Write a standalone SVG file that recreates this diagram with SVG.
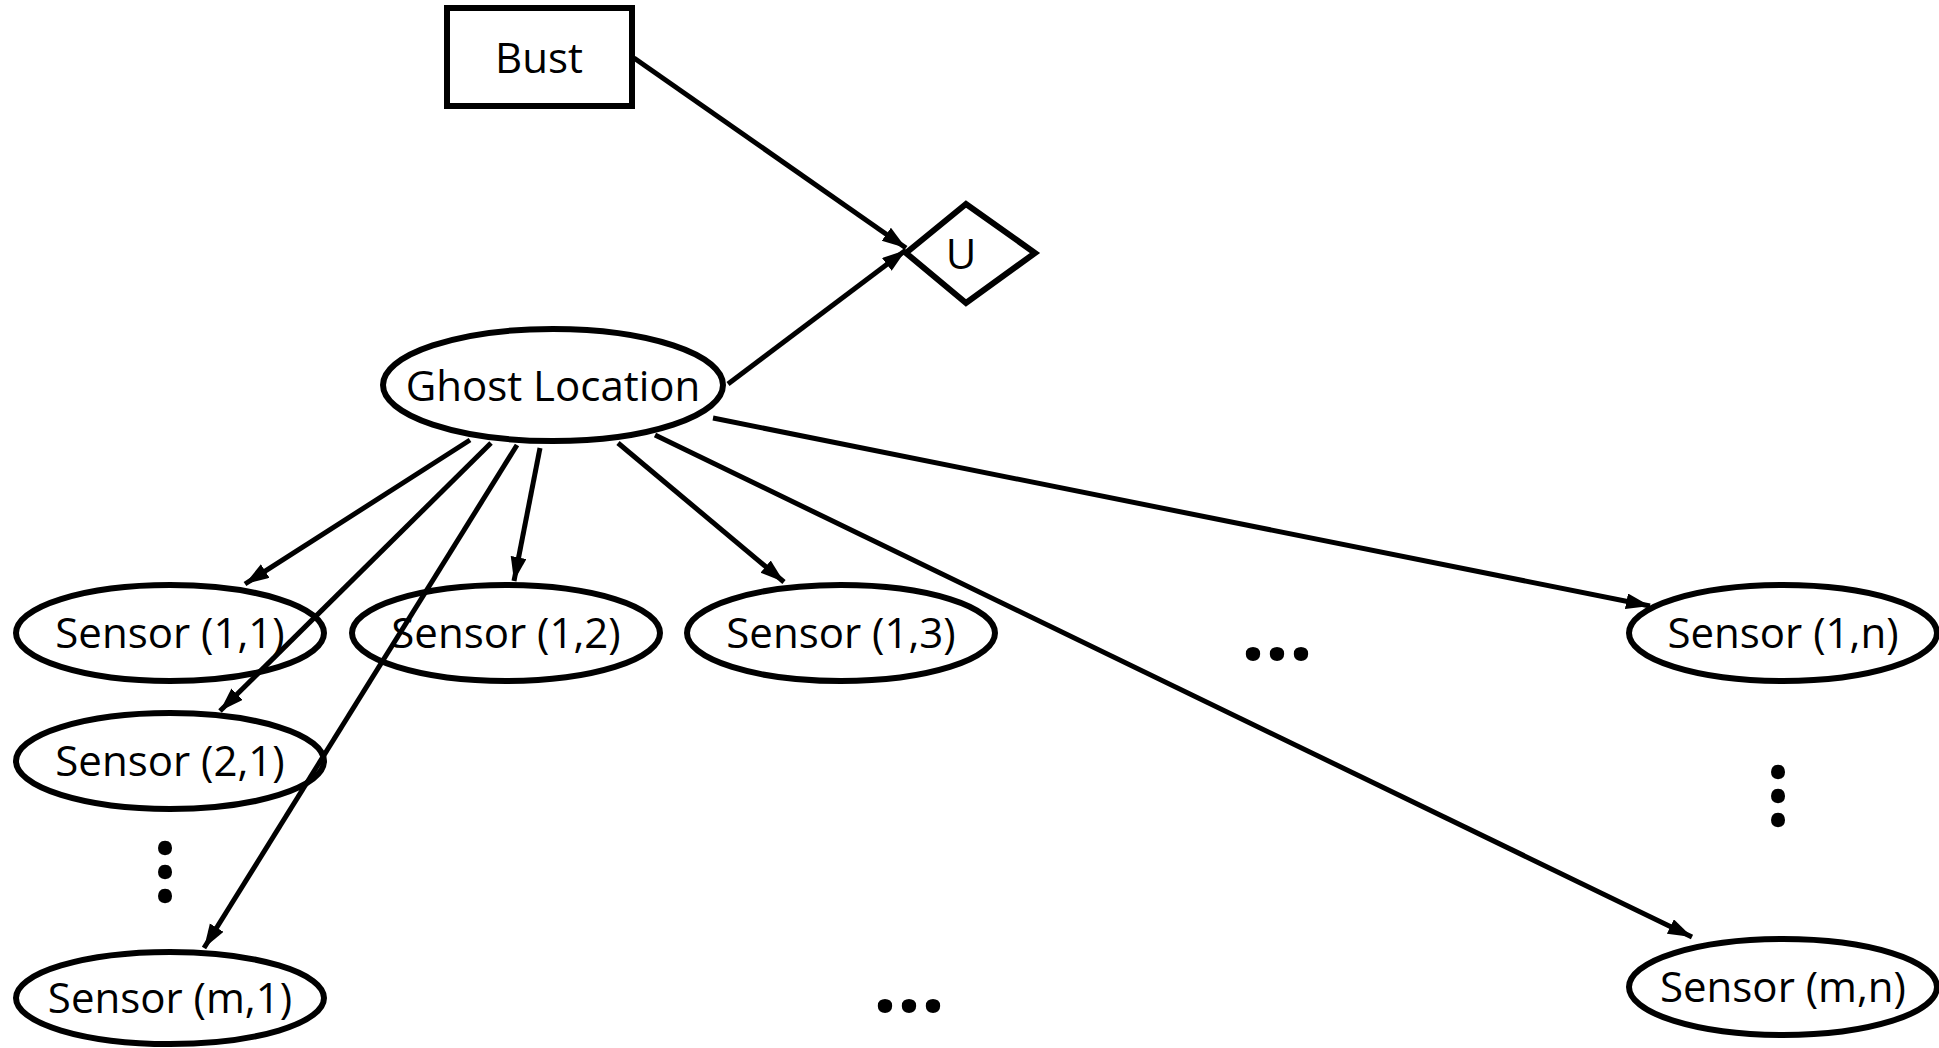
<svg xmlns="http://www.w3.org/2000/svg" width="1939" height="1048" viewBox="0 0 1939 1048">
<defs>
<marker id="ah" markerUnits="userSpaceOnUse" markerWidth="26" markerHeight="18" refX="24" refY="8" orient="auto">
<path d="M0,0 L24,8 L0,16 z" fill="#000"/>
</marker>
</defs>
<style>
.node{fill:#fff;stroke:#000;stroke-width:6}
.lbl{font-family:"Open Sans","Liberation Sans",sans-serif;font-size:42px;fill:#000;text-anchor:middle}
.edge{stroke:#000;stroke-width:5;fill:none;marker-end:url(#ah)}
.dots{font-family:"Open Sans","Liberation Sans",sans-serif;font-weight:bold;font-size:84px;fill:#000;text-anchor:middle}
</style>
<rect width="1939" height="1048" fill="#fff"/>
<g id="edges">
<line class="edge" x1="634" y1="58" x2="906" y2="248"/>
<line class="edge" x1="728" y1="384" x2="906" y2="250"/>
<line class="edge" x1="470" y1="440" x2="245" y2="584"/>
<line class="edge" x1="491" y1="443" x2="220" y2="711"/>
<line class="edge" x1="517" y1="445" x2="204" y2="948"/>
<line class="edge" x1="540" y1="448" x2="514" y2="581"/>
<line class="edge" x1="618" y1="443" x2="784" y2="582"/>
<line class="edge" x1="655" y1="435" x2="1692" y2="937"/>
<line class="edge" x1="713" y1="418" x2="1650" y2="606"/>
</g>
<g id="bust">
<rect class="node" x="447" y="8" width="185" height="98"/>
<text class="lbl" x="539" y="73">Bust</text>
</g>
<g id="u">
<polygon class="node" points="906,253 966,204 1035,253 966,303"/>
<text class="lbl" x="961" y="269">U</text>
</g>
<g id="ghost">
<ellipse class="node" cx="553" cy="385" rx="170" ry="56" style="fill:none"/>
<text class="lbl" x="553" y="401">Ghost Location</text>
</g>
<g id="s11"><ellipse class="node" cx="170" cy="633" rx="154" ry="48" style="fill:none"/><text class="lbl" x="170" y="648">Sensor (1,1)</text></g>
<g id="s12"><ellipse class="node" cx="506" cy="633" rx="154" ry="48" style="fill:none"/><text class="lbl" x="506" y="648">Sensor (1,2)</text></g>
<g id="s13"><ellipse class="node" cx="841" cy="633" rx="154" ry="48" style="fill:none"/><text class="lbl" x="841" y="648">Sensor (1,3)</text></g>
<g id="s1n"><ellipse class="node" cx="1783" cy="633" rx="154" ry="48" style="fill:none"/><text class="lbl" x="1783" y="648">Sensor (1,n)</text></g>
<g id="s21"><ellipse class="node" cx="170" cy="761" rx="154" ry="48" style="fill:none"/><text class="lbl" x="170" y="776">Sensor (2,1)</text></g>
<g id="sm1"><ellipse class="node" cx="170" cy="998" rx="154" ry="46" style="fill:none"/><text class="lbl" x="170" y="1013">Sensor (m,1)</text></g>
<g id="smn"><ellipse class="node" cx="1783" cy="987" rx="154" ry="48" style="fill:none"/><text class="lbl" x="1783" y="1002">Sensor (m,n)</text></g>
<g id="ellipses">
<text class="dots" x="1277" y="660">...</text>
<text class="dots" x="909" y="1012">...</text>
<text class="dots" transform="translate(1786,796) rotate(90)" x="0" y="14">...</text>
<text class="dots" transform="translate(173,872) rotate(90)" x="0" y="14">...</text>
</g>
</svg>
